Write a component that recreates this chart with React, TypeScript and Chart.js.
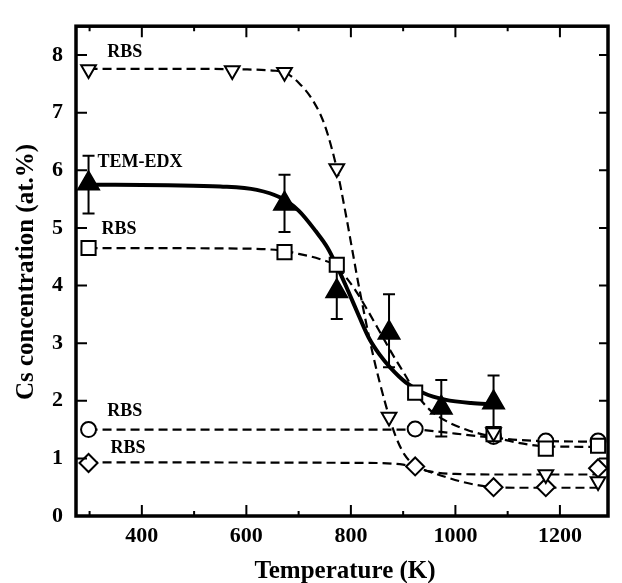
import React, { useEffect, useRef } from "react";
import { Chart, registerables } from "chart.js";

Chart.register(...registerables);

// ---- axis ticks ----
const xTickValues = [400, 600, 800, 1000, 1200];
const xMinorTickValues = [300, 500, 700, 900, 1100];
const yTickValues = [0, 1, 2, 3, 4, 5, 6, 7, 8];

// ---- RBS measurements (open markers) ----
const rbsTriangleT = [298, 573, 673, 773, 873, 1073, 1173, 1273];
const rbsTriangleC = [7.75, 7.73, 7.7, 6.03, 1.72, 1.45, 0.72, 0.6];

const rbsSquareT = [298, 673, 773, 923, 1073, 1173, 1273];
const rbsSquareC = [4.65, 4.58, 4.36, 2.14, 1.42, 1.17, 1.22];

const rbsCircleT = [298, 923, 1073, 1173, 1273];
const rbsCircleC = [1.5, 1.51, 1.38, 1.3, 1.3];

const rbsDiamondT = [298, 923, 1073, 1173, 1273];
const rbsDiamondC = [0.92, 0.86, 0.5, 0.5, 0.83];

// ---- TEM-EDX measurements (filled triangles with error bars) ----
const temT = [298, 673, 773, 873, 973, 1073];
const temC = [5.77, 5.42, 3.9, 3.18, 1.88, 1.97];
const temErrHigh = [6.25, 5.92, 4.4, 3.85, 2.36, 2.44];
const temErrLow = [5.25, 4.93, 3.42, 2.58, 1.38, 1.47];

// ---- fitted curves ----
const fitTriangleT = [298, 450, 600, 650, 673, 700, 730, 750, 773, 790, 803, 815, 841, 866, 885, 903, 928, 960, 1000, 1100, 1273];
const fitTriangleC = [7.76, 7.76, 7.75, 7.73, 7.7, 7.52, 7.17, 6.78, 6.03, 5.25, 4.6, 4.0, 2.85, 1.95, 1.4, 1.06, 0.84, 0.76, 0.73, 0.72, 0.72];

const fitTemT = [298, 450, 550, 620, 664, 700, 733, 755, 775, 795, 815, 835, 855, 875, 905, 940, 980, 1030, 1073];
const fitTemC = [5.75, 5.74, 5.72, 5.66, 5.53, 5.3, 4.94, 4.66, 4.3, 3.9, 3.48, 3.08, 2.8, 2.58, 2.32, 2.13, 2.02, 1.96, 1.94];

const fitSquareT = [298, 600, 673, 700, 740, 773, 790, 810, 830, 852, 880, 903, 923, 950, 980, 1020, 1073, 1120, 1173, 1273];
const fitSquareC = [4.65, 4.64, 4.6, 4.55, 4.46, 4.33, 4.15, 3.9, 3.6, 3.25, 2.8, 2.46, 2.15, 1.85, 1.66, 1.5, 1.37, 1.27, 1.21, 1.2];

const fitCircleT = [298, 900, 923, 960, 1000, 1040, 1073, 1120, 1173, 1273];
const fitCircleC = [1.5, 1.5, 1.5, 1.47, 1.43, 1.39, 1.36, 1.32, 1.3, 1.29];

const fitDiamondT = [298, 850, 900, 923, 950, 980, 1010, 1040, 1073, 1120, 1173, 1273];
const fitDiamondC = [0.93, 0.92, 0.89, 0.85, 0.77, 0.68, 0.6, 0.54, 0.5, 0.49, 0.49, 0.49];

// ---- annotation labels ----
const labelTexts = ["RBS", "TEM-EDX", "RBS", "RBS", "RBS"];
const labelT = [334, 315, 323, 334, 340];
const labelC = [7.97, 6.05, 4.9, 1.73, 1.09];

const SERIF = '"Liberation Serif", "Times New Roman", serif';

const pts = (xs: number[], ys: number[]) => xs.map((x, i) => ({ x, y: ys[i] }));

export default function App() {
  const ref = useRef<HTMLCanvasElement>(null);

  useEffect(() => {
    const canvas = ref.current;
    if (!canvas) return;

    const fit = (data: any, dashed: boolean) => ({
      type: "line" as const,
      data,
      borderColor: "#000",
      borderWidth: dashed ? 2.2 : 4,
      borderDash: dashed ? [9, 5] : [],
      pointRadius: 0,
      fill: false,
      cubicInterpolationMode: "monotone" as const,
      order: dashed ? 10 : 9,
    });

    const marker = (data: any, style: string, radius: number, rotation: number, filled: boolean) => ({
      type: "scatter" as const,
      data,
      pointStyle: style,
      pointRadius: radius,
      pointRotation: rotation,
      pointBackgroundColor: filled ? "#000" : "#fff",
      pointBorderColor: "#000",
      pointBorderWidth: 2,
      showLine: false,
      order: filled ? 0 : 1,
    });

    const errorBars = {
      id: "errorBars",
      beforeDatasetsDraw(chart: any) {
        const { ctx, scales } = chart;
        const x = scales.x;
        const y = scales.y;
        ctx.save();
        ctx.strokeStyle = "#000";
        ctx.lineWidth = 2;
        temT.forEach((t, i) => {
          const px = x.getPixelForValue(t);
          const pt = y.getPixelForValue(temErrHigh[i]);
          const pb = y.getPixelForValue(temErrLow[i]);
          ctx.beginPath();
          ctx.moveTo(px, pt);
          ctx.lineTo(px, pb);
          ctx.moveTo(px - 6, pt);
          ctx.lineTo(px + 6, pt);
          ctx.moveTo(px - 6, pb);
          ctx.lineTo(px + 6, pb);
          ctx.stroke();
        });
        ctx.restore();
      },
    };

    const frame = {
      id: "frame",
      afterDraw(chart: any) {
        const { ctx, chartArea, scales } = chart;
        const { left, right, top, bottom } = chartArea;
        const x = scales.x;
        const y = scales.y;
        ctx.save();
        ctx.strokeStyle = "#000";
        ctx.lineWidth = 2;
        ctx.beginPath();
        xTickValues.forEach((v) => {
          const px = x.getPixelForValue(v);
          ctx.moveTo(px, bottom);
          ctx.lineTo(px, bottom - 11);
          ctx.moveTo(px, top);
          ctx.lineTo(px, top + 11);
        });
        xMinorTickValues.forEach((v) => {
          const px = x.getPixelForValue(v);
          ctx.moveTo(px, bottom);
          ctx.lineTo(px, bottom - 5);
          ctx.moveTo(px, top);
          ctx.lineTo(px, top + 5);
        });
        yTickValues.forEach((v) => {
          const py = y.getPixelForValue(v);
          ctx.moveTo(left, py);
          ctx.lineTo(left + 11, py);
          ctx.moveTo(right, py);
          ctx.lineTo(right - 9, py);
        });
        ctx.stroke();
        ctx.lineWidth = 3.5;
        ctx.strokeRect(left, top, right - left, bottom - top);

        // annotation labels
        ctx.fillStyle = "#000";
        ctx.font = `bold 18px ${SERIF}`;
        ctx.textAlign = "left";
        ctx.textBaseline = "alphabetic";
        labelTexts.forEach((txt, i) => {
          ctx.fillText(txt, x.getPixelForValue(labelT[i]), y.getPixelForValue(labelC[i]));
        });

        // axis titles
        ctx.font = `bold 25px ${SERIF}`;
        ctx.textAlign = "center";
        ctx.fillText("Temperature (K)", (left + right) / 2 + 3, 578);
        ctx.save();
        ctx.translate(33, 272);
        ctx.rotate(-Math.PI / 2);
        ctx.fillText("Cs concentration (at.%)", 0, 0);
        ctx.restore();
        ctx.restore();
      },
    };

    const chart = new Chart(canvas, {
      type: "scatter",
      data: {
        datasets: [
          fit(pts(fitTriangleT, fitTriangleC), true),
          fit(pts(fitSquareT, fitSquareC), true),
          fit(pts(fitCircleT, fitCircleC), true),
          fit(pts(fitDiamondT, fitDiamondC), true),
          fit(pts(fitTemT, fitTemC), false),
          marker(pts(rbsTriangleT, rbsTriangleC), "triangle", 8.5, 180, false),
          marker(pts(rbsSquareT, rbsSquareC), "rect", 10, 0, false),
          marker(pts(rbsCircleT, rbsCircleC), "circle", 7.5, 0, false),
          marker(pts(rbsDiamondT, rbsDiamondC), "rectRot", 9, 0, false),
          marker(pts(temT, temC), "triangle", 12, 0, true),
        ] as any,
      },
      options: {
        responsive: false,
        animation: false,
        devicePixelRatio: 1,
        layout: { padding: { top: 11, right: 7, left: 0, bottom: 0 } },
        plugins: {
          legend: { display: false },
          tooltip: { enabled: false },
        },
        scales: {
          x: {
            type: "linear",
            min: 274,
            max: 1292,
            grid: { display: false, drawTicks: false },
            border: { display: false },
            afterBuildTicks: (scale: any) => {
              scale.ticks = xTickValues.map((v) => ({ value: v }));
            },
            afterFit: (scale: any) => {
              scale.height = 67;
            },
            ticks: {
              color: "#000",
              font: { family: SERIF, size: 22, weight: "bold" },
              padding: 7,
              maxRotation: 0,
              autoSkip: false,
              callback: (v: any) => String(v),
            },
          },
          y: {
            type: "linear",
            min: 0,
            max: 8.5,
            grid: { display: false, drawTicks: false },
            border: { display: false },
            afterBuildTicks: (scale: any) => {
              scale.ticks = yTickValues.map((v) => ({ value: v }));
            },
            afterFit: (scale: any) => {
              scale.width = 76;
            },
            ticks: {
              color: "#000",
              font: { family: SERIF, size: 22, weight: "bold" },
              padding: 13,
              autoSkip: false,
              callback: (v: any) => String(v),
            },
          },
        },
      },
      plugins: [errorBars, frame],
    });

    return () => chart.destroy();
  }, []);

  return (
    <div style={{ position: "fixed", left: 0, top: 0, width: 622, height: 583, background: "#fff" }}>
      <canvas ref={ref} width={622} height={583} />
    </div>
  );
}
